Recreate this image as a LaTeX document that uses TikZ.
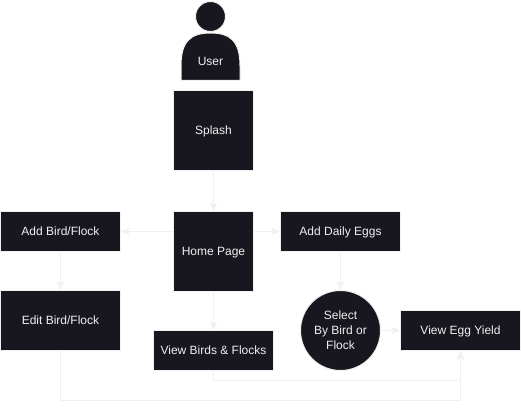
\documentclass[tikz,border=0pt]{standalone}
\usepackage{fontspec}
\setmainfont{Liberation Sans}
\usetikzlibrary{arrows.meta}
\definecolor{boxdark}{HTML}{18171F}
\definecolor{linelight}{HTML}{F0F0F0}
\begin{document}
\begin{tikzpicture}[x=0.75pt, y=-0.75pt, line width=0.75pt,
    box/.style={fill=boxdark, draw=linelight, text=linelight, shape=rectangle, inner sep=0pt, font=\fontsize{9}{11.25}\selectfont, align=center},
    oneline/.style={box, text height=7pt, text depth=1.6pt},
    wide/.style={oneline, minimum width=90pt, minimum height=30pt},
    tall/.style={oneline, minimum width=90pt, minimum height=45pt},
    square/.style={oneline, minimum width=60pt, minimum height=60pt},
    round/.style={box, shape=circle, minimum size=60pt},
    link/.style={draw=linelight, -{Stealth[length=6.5pt, width=5.5pt, inset=1.5pt]}}
]
\useasboundingbox (0,0) rectangle (521,409);
% --- User ---
\fill[boxdark, draw=linelight] (181,80.5) -- (181,66) .. controls (181,42) and (190,33) .. (210.5,33)
    .. controls (231,33) and (240,42) .. (240,66) -- (240,80.5) -- cycle;
\node[box, shape=circle, minimum size=22.5pt] (head) at (210.5,16.5) {};
\node[oneline, fill=none, draw=none] (user) at (210.5,61.5) {User};
% --- Boxes ---
\node[square] (splash) at (213.5,130.5) {Splash};
\node[square] (home) at (213.5,251.5) {Home Page};
\node[wide] (addbird) at (60.5,231.5) {Add Bird/Flock};
\node[tall] (editbird) at (60.5,320.5) {Edit Bird/Flock};
\node[wide] (viewbirds) at (213.5,350.5) {View Birds \& Flocks};
\node[wide] (addeggs) at (340.5,231.5) {Add Daily Eggs};
\node[round] (select) at (340.5,330.5) {Select\\By Bird or\\Flock};
\node[wide] (yield) at (460.5,330.5) {View Egg Yield};
% --- Turning points ---
\coordinate (birdsturn) at (460.5,380.5);
\coordinate (editturn) at (460.5,400.5);
% --- Connectors ---
\draw[link] (splash) -- (home);
\draw[link] (home.west |- addbird) -- (addbird);
\draw[link] (home.east |- addeggs) -- (addeggs);
\draw[link] (addbird) -- (editbird);
\draw[link] (home) -- (viewbirds);
\draw[link] (addeggs) -- (select);
\draw[link] (select) -- (yield);
\draw[link] (viewbirds.south) |- (birdsturn) -- (yield.south);
\draw[link] (editbird.south) |- (editturn) -- (yield.south);
\end{tikzpicture}
\end{document}
